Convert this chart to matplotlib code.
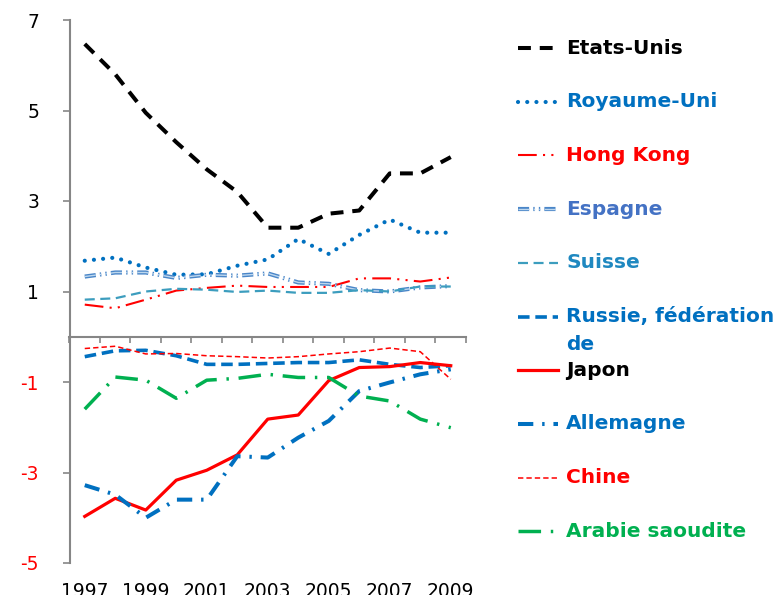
import matplotlib
matplotlib.use("Agg")
import matplotlib.pyplot as plt
from matplotlib.lines import Line2D
import matplotlib.patheffects as pe

years = list(range(1997, 2010))

etats_unis = [6.47, 5.80, 4.95, 4.30, 3.70, 3.20, 2.41, 2.41, 2.72, 2.79, 3.61, 3.61, 3.97]
royaume_uni = [1.68, 1.75, 1.53, 1.37, 1.38, 1.57, 1.71, 2.16, 1.83, 2.25, 2.59, 2.30, 2.30]
hong_kong = [0.71, 0.63, 0.82, 1.02, 1.08, 1.13, 1.10, 1.10, 1.10, 1.29, 1.29, 1.22, 1.31]
espagne = [1.33, 1.42, 1.42, 1.30, 1.37, 1.35, 1.40, 1.20, 1.17, 1.03, 1.00, 1.09, 1.12]
suisse = [0.82, 0.85, 1.00, 1.06, 1.04, 0.99, 1.02, 0.97, 0.97, 1.03, 1.00, 1.11, 1.11]
russie = [-0.44, -0.31, -0.30, -0.42, -0.61, -0.61, -0.59, -0.57, -0.57, -0.51, -0.61, -0.68, -0.64]
japon = [-3.97, -3.57, -3.83, -3.17, -2.95, -2.61, -1.82, -1.73, -0.97, -0.68, -0.66, -0.57, -0.64]
allemagne = [-3.28, -3.49, -4.00, -3.60, -3.60, -2.64, -2.67, -2.23, -1.86, -1.20, -1.01, -0.83, -0.72]
chine = [-0.26, -0.21, -0.38, -0.37, -0.42, -0.44, -0.47, -0.44, -0.38, -0.33, -0.25, -0.33, -0.94]
arabie = [-1.60, -0.89, -0.96, -1.36, -0.96, -0.92, -0.83, -0.90, -0.90, -1.31, -1.42, -1.82, -2.01]

labels = ["Etats-Unis", "Royaume-Uni", "Hong Kong", "Espagne", "Suisse",
          "Russie, fédération\nde", "Japon", "Allemagne", "Chine", "Arabie saoudite"]
series = [etats_unis, royaume_uni, hong_kong, espagne, suisse,
          russie, japon, allemagne, chine, arabie]
label_colors = ["black", "#0070C0", "#FF0000", "#4472C4", "#1F88C0",
                "#0070C0", "black", "#0070C0", "#FF0000", "#00B050"]

y_ticks = [-5, -3, -1, 1, 3, 5, 7]
x_tick_years = [1997, 1999, 2001, 2003, 2005, 2007, 2009]

FONT = "DejaVu Sans"

# line styles per series
styles = [
    dict(color="black", lw=2.9, ls=(0, (3.2, 2.2)), dash_capstyle="butt"),
    dict(color="#0070C0", lw=3.0, ls=(0, (0.01, 2.2)), dash_capstyle="round"),
    dict(color="#FF0000", lw=1.5, ls=(0, (9, 3, 1, 3, 1, 3))),
    dict(color="#5B9BD5", lw=2.2, ls=(0, (8, 3, 1, 3, 1, 3))),
    dict(color="#3C9DBE", lw=1.6, ls=(0, (4.5, 2.5))),
    dict(color="#0070C0", lw=2.6, ls=(0, (3.2, 1.6))),
    dict(color="#FF0000", lw=2.3, ls="-"),
    dict(color="#0070C0", lw=2.9, ls=(0, (3.8, 2.2, 0.6, 2.2))),
    dict(color="#FF0000", lw=1.1, ls=(0, (3.5, 2.0))),
    dict(color="#00B050", lw=2.5, ls=(0, (6.5, 2.8, 0.7, 2.8))),
]


def styled_line(line, st):
    """Apply one series style to a Line2D (Espagne gets a double outline)."""
    if st["color"] == "#5B9BD5":
        line.set_path_effects([pe.Stroke(linewidth=3.0, foreground="#4A86C8"),
                               pe.Normal()])
        line.set_color("#BDD7EE")
        line.set_linewidth(1.0)


W, H = 778, 595
fig = plt.figure(figsize=(W / 100, H / 100), dpi=100)
ax = fig.add_axes([69.5 / W, (H - 563) / H, (466 - 69.5) / W, (563 - 20) / H])

for vals, st in zip(series, styles):
    kw = dict(st)
    ls = kw.pop("ls")
    line, = ax.plot(years, vals, linestyle=ls, solid_joinstyle="round", **kw)
    styled_line(line, st)

ax.set_xlim(1996.5, 2009.5)
ax.set_ylim(-5, 7)

for s in ["top", "right", "bottom"]:
    ax.spines[s].set_visible(False)
ax.spines["left"].set_color("#868686")
ax.spines["left"].set_linewidth(1.5)

ax.set_yticks(y_ticks)
ax.set_yticklabels([str(v) for v in y_ticks])
for t, v in zip(ax.get_yticklabels(), y_ticks):
    t.set_color("#FF0000" if v < 0 else "black")
    t.set_fontfamily(FONT)
ax.tick_params(axis="y", direction="out", length=5, width=1.2, color="#868686",
               pad=17, labelsize=13.5)

ax.set_xticks(x_tick_years)
ax.set_xticklabels([str(y) for y in x_tick_years])
for t in ax.get_xticklabels():
    t.set_fontfamily(FONT)
ax.tick_params(axis="x", length=0, pad=14, labelsize=13.5)

# horizontal category axis crossing at zero
zero_frac = (0 - (-5)) / 12
sec = ax.secondary_xaxis(zero_frac)
sec.set_xticks([y - 0.5 for y in years] + [years[-1] + 0.5])
sec.set_xticklabels([])
sec.tick_params(axis="x", direction="out", length=4.5, width=1.2, color="#868686")
sec.spines["bottom"].set_color("#868686")
sec.spines["bottom"].set_linewidth(1.5)

# legend on the right
y0, step = 48, 53.7
for i, (lab, st, col) in enumerate(zip(labels, styles, label_colors)):
    yc = y0 + i * step
    yf = 1 - yc / H
    kw = dict(st)
    ls = kw.pop("ls")
    ln = Line2D([518 / W, 558 / W], [yf, yf], transform=fig.transFigure,
                linestyle=ls, **kw)
    styled_line(ln, st)
    fig.add_artist(ln)
    parts = lab.split("\n")
    for j, part in enumerate(parts):
        fig.text(566 / W, 1 - (yc + 28 * j) / H, part, color=col, fontsize=14.5,
                 fontweight="bold", family=FONT, va="center", ha="left")

fig.savefig("out.png", dpi=100)
